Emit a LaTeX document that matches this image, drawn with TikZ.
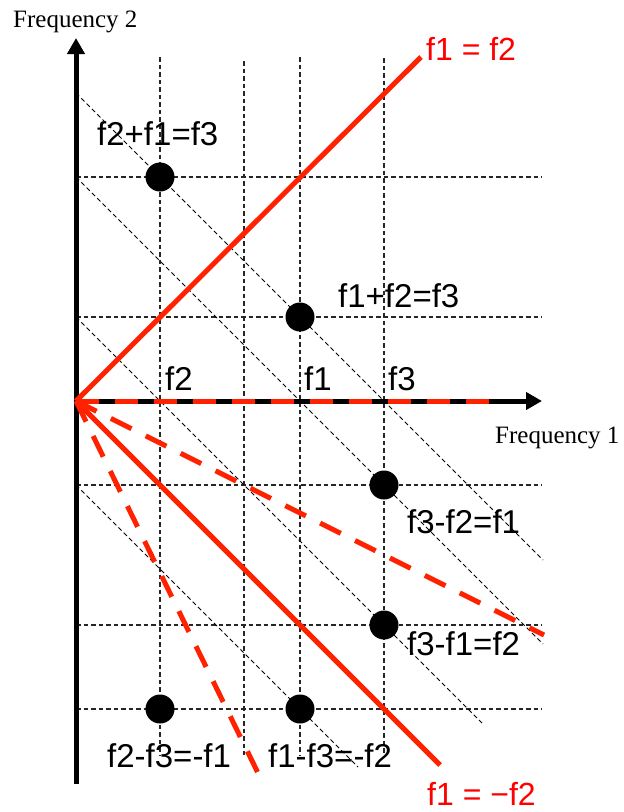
\documentclass[tikz,border=0pt]{standalone}
\usepackage{fontspec}
\setmainfont{Liberation Serif}
\newfontfamily\labfont{Liberation Sans}
\usetikzlibrary{arrows.meta}
\definecolor{redl}{RGB}{255,34,0}
\definecolor{redt}{RGB}{255,0,0}
\begin{document}
\begin{tikzpicture}[x=1pt,y=-1pt,
  gridline/.style={draw=black!85,line width=1.1pt,dash pattern=on 4.5pt off 3pt},
  diagline/.style={draw=black,line width=1pt,dash pattern=on 4.5pt off 3pt},
  axisline/.style={draw=black,line width=5pt,-{Triangle[length=16pt,width=17pt]}},
  redsolid/.style={draw=redl,line width=5pt},
  reddash/.style={draw=redl,line width=5pt,dash pattern=on 23pt off 16pt},
  dot/.style={circle,fill=black,minimum size=29pt,inner sep=0pt},
  lbl/.style={font=\labfont\fontsize{33}{38}\selectfont,inner sep=0pt,anchor=base west},
  rlbl/.style={font=\labfont\fontsize{32}{36}\selectfont,text=redt,inner sep=0pt,anchor=base west},
  axlbl/.style={font=\fontsize{25}{30}\selectfont,inner sep=0pt,anchor=base west}]
\useasboundingbox (0,0) rectangle (624,812);
% key coordinates
\coordinate (O) at (76,401);
\coordinate (ytop) at (76,38);
\coordinate (ybot) at (76,784);
\coordinate (xend) at (542,401);
% vertical grid
\foreach \x/\t in {160/57,244/61,300/57,384/58}
  \draw[gridline] (\x,\t) -- (\x,755);
% horizontal grid
\foreach \y in {177,317,485,625,709}
  \draw[gridline] (76,\y) -- (542,\y);
% diagonal lines
\draw[diagline] (76,93) -- (543,560);
\draw[diagline] (76,177) -- (543,644);
\draw[diagline] (76,317) -- (482,723);
\draw[diagline] (76,485) -- (358,767);
% axes
\draw[axisline] (ybot) -- (ytop);
\draw[axisline] (O) -- (xend);
% red lines
\coordinate (pp) at (421,57);
\coordinate (pm) at (440,765);
\coordinate (dx) at (491,401);
\coordinate (dh) at (544,635);
\coordinate (dv) at (258,773);
\draw[redsolid] (O) -- (pp);
\draw[redsolid] (O) -- (pm);
\draw[reddash] (O) -- (dx);
\draw[reddash] (O) -- (dh);
\draw[reddash] (O) -- (dv);
% dots
\node[dot] (d1) at (160,177) {};
\node[dot] (d2) at (300,317) {};
\node[dot] (d3) at (384,485) {};
\node[dot] (d4) at (384,625) {};
\node[dot] (d5) at (160,709) {};
\node[dot] (d6) at (300,709) {};
% labels
\node[axlbl] (fy) at (13,27) {Frequency 2};
\node[axlbl] (fx) at (495,443) {Frequency 1};
\node[lbl] (t1) at (97,145) {f2+f1=f3};
\node[lbl] (t2) at (338,307) {f1+f2=f3};
\node[lbl] (a2) at (165,390) {f2};
\node[lbl] (a1) at (304,390) {f1};
\node[lbl] (a3) at (388,390) {f3};
\node[lbl] (t3) at (407,533) {f3-f2=f1};
\node[lbl] (t4) at (407,655) {f3-f1=f2};
\node[lbl] (t5) at (107,767) {f2-f3=-f1};
\node[lbl] (t6) at (268,767) {f1-f3=-f2};
\node[rlbl] (r1) at (426,60) {f1 = f2};
\node[rlbl] (r2) at (427,805) {f1 = −f2};
\end{tikzpicture}
\end{document}
